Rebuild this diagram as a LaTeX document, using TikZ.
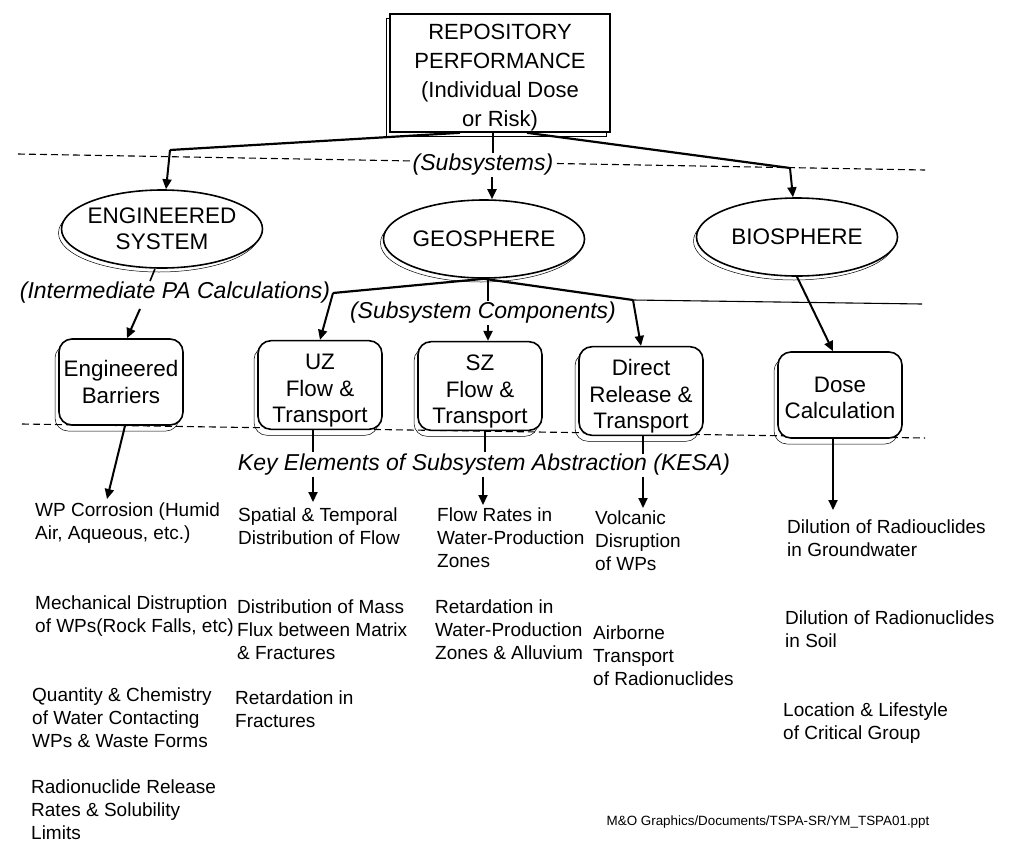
\documentclass[tikz,border=0pt]{standalone}
\usepackage{fontspec}
\setmainfont{Liberation Sans}
\usetikzlibrary{shapes.geometric,arrows.meta,calc}
\newcommand\pushdown[1]{\rule{0pt}{#1}}
\begin{document}
\begin{tikzpicture}[x=1pt,y=-1pt,
  conn/.style={line width=2.2pt},
  arr/.style={line width=2pt,-{Triangle[length=10pt,width=9pt]}},
  tick/.style={line width=1.6pt},
  guide/.style={line width=1.1pt,dash pattern=on 7pt off 4pt},
  thinline/.style={line width=1.1pt},
  shadowed/.style={preaction={draw,line width=0.5pt,transform canvas={shift={(#1)}}}},
  topbox/.style={rectangle,draw,line width=1.6pt,fill=white,minimum width=220pt,minimum height=118pt,inner xsep=3pt,inner ysep=0pt,align=center,font=\fontsize{22}{29}\selectfont,shadowed={-4pt,-4pt}},
  ell/.style={ellipse,draw,line width=1.6pt,fill=white,minimum width=201pt,minimum height=78pt,inner xsep=-4pt,inner ysep=0pt,align=center,font=\fontsize{22.5}{26}\selectfont,shadowed={-3pt,-4pt}},
  bx/.style={rectangle,rounded corners=13pt,draw,line width=1.6pt,fill=white,minimum width=124pt,minimum height=86pt,inner sep=2pt,align=center,font=\fontsize{22.4}{26.5}\selectfont,shadowed={-4pt,-6pt}},
  lab/.style={font=\itshape\fontsize{23}{27}\selectfont,inner sep=1pt,fill=white},
  txt/.style={anchor=north west,align=left,inner sep=0pt,font=\fontsize{19}{23}\selectfont},
  foot/.style={inner sep=0pt,font=\fontsize{13.4}{16}\selectfont}
]
\useasboundingbox (0,0) rectangle (1011,846);
% guide lines
\draw[guide] (18,154) -- (925,170);
\draw[guide] (22,424) -- (925,438);
% junction coordinates
\coordinate (jE) at (170,150);
\coordinate (jB) at (790,168);
\coordinate (jU) at (333,293);
\coordinate (jD) at (633,300);
\coordinate (jR) at (922,304);
\coordinate (tEB) at (107,499);
\coordinate (kU) at (313,452);
\coordinate (kS) at (485,452);
\coordinate (kD) at (643,454);
\coordinate (aU) at (313,502);
\coordinate (aS) at (483,505);
\coordinate (aD) at (643,508);
\coordinate (aB) at (833,510);
% nodes
\node[topbox] (rp) at (500,73) {\pushdown{24pt}REPOSITORY\\PERFORMANCE\\(Individual Dose\\or Risk)};
\node[lab] (subsys) at (483,165) {(Subsystems)};
\node[ell] (es) at (162,229) {ENGINEERED\\SYSTEM};
\node[ell] (geo) at (484,239) {GEOSPHERE};
\node[ell] (bs) at (797,237) {BIOSPHERE};
\node[lab] (ipa) at (175,293) {(Intermediate PA Calculations)};
\node[lab] (subcomp) at (483,313) {(Subsystem Components)};
% connectors upper part
\draw[conn] ($(rp.south)+(-40,0)$) -- (jE);
\draw[arr] (jE) -- (es);
\draw[conn] ($(rp.south)+(27,0)$) -- (jB);
\draw[arr] (jB) -- (bs);
\draw[tick] ($(rp.south)+(-7,0)$) -- ($(subsys.north)+(10,0)$);
\draw[arr] ($(subsys.south)+(9,0)$) -- ($(geo.north)+(8,0)$);
\draw[tick] ($(es.south)+(-7,0)$) -- ($(ipa.north)+(-25,0)$);
\draw[conn] (geo.south) -- (jU);
\draw[conn] (geo.south) -- (jD);
\draw[thinline] (jD) -- (jR);
\draw[tick] ($(geo.south)+(4,0)$) -- ($(subcomp.north)+(5,0)$);
% boxes
\node[bx] (eb) at (121,382) {Engineered\\Barriers};
\node[bx] (uz) at (320,385) {\pushdown{27pt}UZ\\Flow \&\\Transport};
\node[bx] (sz) at (480,386) {\pushdown{27pt}SZ\\Flow \&\\Transport};
\node[bx] (dr) at (641,391) {\pushdown{27pt}Direct\\Release \&\\Transport};
\node[bx] (dose) at (840,395) {\pushdown{21pt}Dose\\Calculation};
\node[lab,fill=none] (kesa) at (484,465) {Key Elements of Subsystem Abstraction (KESA)};
\draw[arr] ($(ipa.south)+(-35,4)$) -- ($(eb.north)+(6,0)$);
\draw[arr] (jU) -- (uz.north);
\draw[arr] ($(subcomp.south)+(5,0)$) -- ($(sz.north)+(8,0)$);
\draw[arr] (jD) -- (dr.north);
\draw[arr] (bs.south) -- ($(dose.north)+(-7,0)$);
% lower connectors
\draw[arr] ($(eb.south)+(4,0)$) -- (tEB);
\draw[tick] (uz.south -| kU) -- (kU);
\draw[tick] (sz.south -| kS) -- (kS);
\draw[tick] (dr.south -| kD) -- (kD);
\draw[arr] (kesa.south -| aU) -- (aU);
\draw[arr] (kesa.south -| aS) -- (aS);
\draw[arr] (kesa.south -| aD) -- (aD);
\draw[arr] (dose.south -| aB) -- (aB);
% key elements
\node[txt] (e1) at (35,503) {WP Corrosion (Humid\\Air, Aqueous, etc.)};
\node[txt] (e2) at (35,596) {Mechanical Distruption\\of WPs(Rock Falls, etc)};
\node[txt] (e3) at (32,688) {Quantity \& Chemistry\\of Water Contacting\\WPs \& Waste Forms};
\node[txt] (e4) at (31,780) {Radionuclide Release\\Rates \& Solubility\\Limits};
\node[txt] (u1) at (238,508) {Spatial \& Temporal\\Distribution of Flow};
\node[txt] (u2) at (237,600) {Distribution of Mass\\Flux between Matrix\\\& Fractures};
\node[txt] (u3) at (235,691) {Retardation in\\Fractures};
\node[txt] (s1) at (437,508) {Flow Rates in\\Water-Production\\Zones};
\node[txt] (s2) at (435,600) {Retardation in\\Water-Production\\Zones \& Alluvium};
\node[txt] (d1) at (595,511) {Volcanic\\Disruption\\of WPs};
\node[txt] (d2) at (593,626) {Airborne\\Transport\\of Radionuclides};
\node[txt] (b1) at (787,520) {Dilution of Radiouclides\\in Groundwater};
\node[txt] (b2) at (785,611) {Dilution of Radionuclides\\in Soil};
\node[txt] (b3) at (783,703) {Location \& Lifestyle\\of Critical Group};
\node[foot] (ft) at (768,822) {M\&O Graphics/Documents/TSPA-SR/YM\_TSPA01.ppt};
\end{tikzpicture}
\end{document}
